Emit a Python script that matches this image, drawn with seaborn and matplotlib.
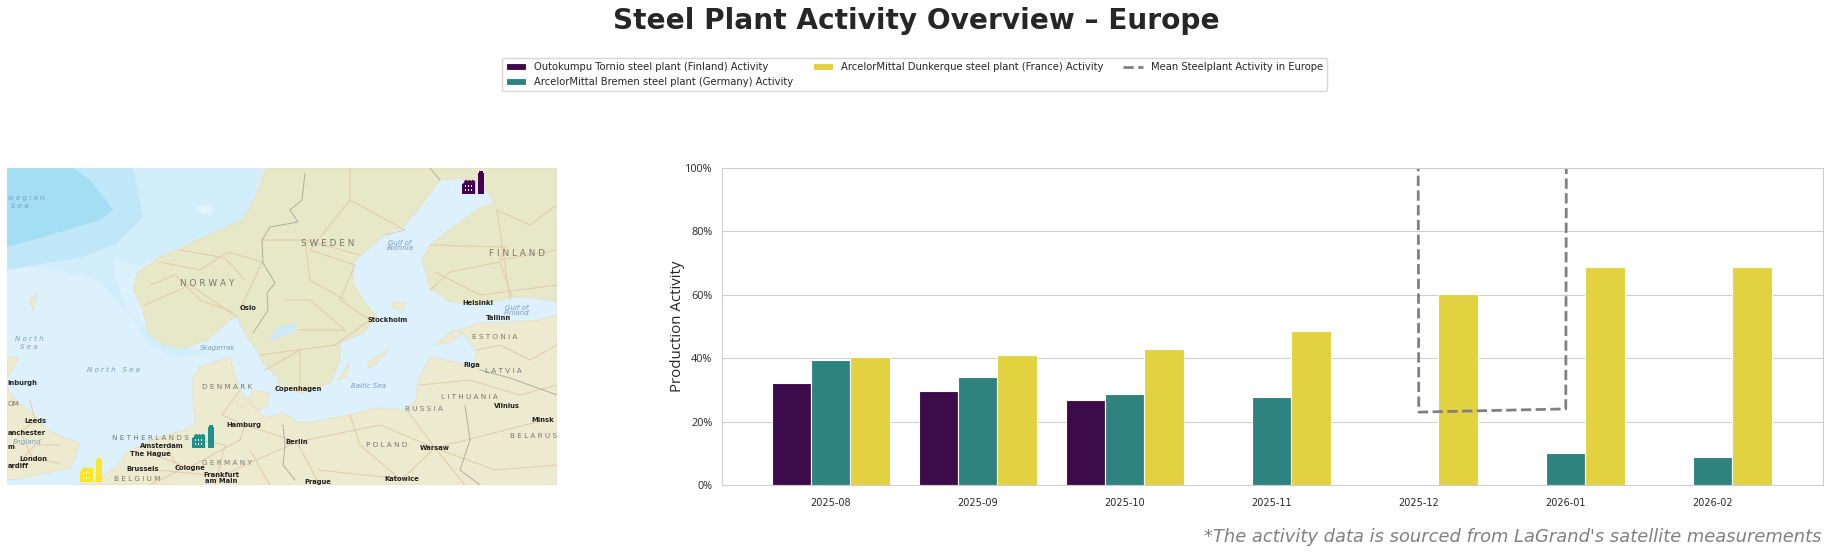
import matplotlib
matplotlib.use('Agg')
import matplotlib.pyplot as plt
from matplotlib.patches import Polygon, Rectangle
from matplotlib.ticker import FuncFormatter
import numpy as np
import pandas as pd
import seaborn as sns

# activity values, percent
months = ['2025-08', '2025-09', '2025-10', '2025-11', '2025-12', '2026-01', '2026-02']
plant_names = ['Outokumpu Tornio steel plant (Finland) Activity',
               'ArcelorMittal Bremen steel plant (Germany) Activity',
               'ArcelorMittal Dunkerque steel plant (France) Activity']
tornio = [32.2, 29.6, 26.8, np.nan, np.nan, np.nan, np.nan]
bremen = [39.4, 34.1, 28.8, 27.7, np.nan, 10.1, 8.8]
dunkerque = [40.4, 41.0, 43.0, 48.7, 60.1, 68.9, 68.9]
# the mean runs far off the top of the axis except for two months
mean_activity = [20000, 20000, 20000, 20000, 23.0, 24.0, 20000]
plant_colors = ['#440154', '#21918c', '#fde725']

# map outlines, in pixels of the map picture
land_main = [(267, 168), (263, 173), (257, 193), (243, 220), (213, 233), (187, 245), (160, 257), (137, 273),
             (133, 290), (143, 310), (148, 333), (163, 345), (183, 348), (207, 340), (230, 320), (237, 317),
             (247, 337), (257, 350), (263, 363), (277, 377), (280, 387), (303, 393), (330, 383), (340, 360),
             (340, 343), (363, 333), (377, 317), (363, 300), (353, 283), (353, 263), (363, 253), (387, 233),
             (403, 227), (420, 207), (430, 193), (440, 180), (460, 178), (480, 183), (495, 202), (480, 208),
             (452, 228), (430, 245), (422, 260), (430, 288), (450, 302), (480, 305), (513, 297), (535, 298),
             (557, 302), (557, 168)]
land_south = [(557, 315), (540, 320), (510, 322), (480, 323), (460, 330), (470, 342), (477, 353), (473, 368),
              (455, 362), (430, 357), (418, 380), (416, 400), (407, 410), (375, 408), (349, 415), (313, 422),
              (298, 423), (284, 413), (265, 418), (253, 407), (240, 390), (233, 370), (230, 357), (200, 367),
              (193, 377), (193, 403), (196, 423), (185, 430), (156, 438), (127, 452), (116, 467), (102, 477),
              (87, 483), (78, 485), (557, 485)]
land_britain = [(7, 387), (13, 397), (23, 407), (37, 417), (47, 430), (63, 437), (80, 443), (75, 458), (70, 468),
                (50, 472), (23, 478), (7, 480)]
land_scotland = [(7, 357), (18, 357), (13, 370), (7, 378)]
islands = [[(253, 390), (270, 393), (267, 407), (257, 410), (248, 400)],
           [(238, 397), (247, 400), (245, 408), (237, 406)],
           [(367, 363), (388, 350), (377, 363), (370, 368)],
           [(338, 380), (350, 362), (345, 378)],
           [(435, 345), (453, 330), (463, 333), (450, 342)],
           [(392, 303), (405, 303), (403, 310), (393, 308)],
           [(30, 300), (37, 294), (33, 310)]]
lake_vanern = [(268, 342), (277, 327), (297, 323), (293, 333), (277, 338)]
sea_deep = [(7, 168), (73, 168), (90, 180), (113, 210), (100, 220), (43, 237), (7, 247)]
sea_mid = [(7, 168), (133, 168), (143, 217), (117, 243), (83, 257), (7, 270)]
sea_pale = [(7, 168), (263, 168), (243, 227), (180, 247), (137, 267), (115, 258), (115, 277), (128, 310),
            (147, 343), (177, 358), (207, 353), (160, 340), (115, 300), (100, 280), (70, 273), (7, 263)]
sea_patch = [(195, 208), (210, 205), (213, 215), (203, 214)]
border_lines = [[(305, 173), (302, 200), (290, 210), (298, 222), (270, 227), (262, 240), (263, 263), (275, 283),
                 (267, 293), (268, 310), (257, 327), (253, 333)],
                [(440, 180), (430, 168)],
                [(283, 425), (285, 445), (283, 465), (295, 480)],
                [(465, 405), (470, 440), (460, 470), (480, 485)],
                [(480, 370), (510, 378), (557, 395)]]
road_lines = [[(350, 168), (350, 200), (310, 250), (355, 265), (340, 300), (370, 320)],
              [(350, 200), (405, 230), (385, 235)],
              [(262, 240), (305, 240), (360, 255)],
              [(305, 240), (310, 280), (345, 300)],
              [(160, 262), (200, 270), (228, 252), (262, 262), (240, 310)],
              [(145, 305), (190, 285), (237, 317)],
              [(150, 285), (175, 275), (200, 300), (232, 312)],
              [(180, 250), (225, 258), (245, 280)],
              [(260, 355), (335, 345), (370, 320)],
              [(265, 370), (300, 350), (300, 390)],
              [(285, 300), (310, 300), (345, 330), (300, 330)],
              [(430, 245), (505, 247), (500, 260), (557, 250)],
              [(430, 290), (450, 272), (500, 262), (512, 297)],
              [(435, 272), (480, 295), (557, 285)],
              [(497, 210), (505, 265), (510, 300)],
              [(497, 210), (530, 225), (557, 205)],
              [(477, 350), (500, 345), (530, 360), (557, 345)],
              [(420, 385), (470, 380), (520, 395), (557, 385)],
              [(245, 425), (297, 442), (380, 425), (435, 448), (545, 420)],
              [(150, 453), (188, 468), (240, 440), (245, 425)],
              [(145, 469), (221, 476), (297, 442), (318, 482)],
              [(435, 448), (402, 479), (318, 470)],
              [(435, 448), (465, 485)],
              [(350, 415), (360, 445), (400, 479)],
              [(407, 410), (435, 448), (495, 470), (557, 465)],
              [(200, 440), (225, 445), (215, 485)],
              [(165, 445), (180, 470), (150, 485)],
              [(250, 450), (270, 485)],
              [(20, 432), (35, 421), (30, 400)],
              [(20, 432), (33, 459), (60, 463)],
              [(12, 470), (35, 445), (60, 445)],
              [(240, 390), (222, 415), (245, 425)]]

# text on the map: label, x, y
country_labels = [('S W E D E N', 328, 243), ('N O R W A Y', 207, 283), ('F I N L A N D', 517, 253),
                  ('E S T O N I A', 495, 337), ('L A T V I A', 503, 371), ('L I T H U A N I A', 469, 397),
                  ('R U S S I A', 424, 409), ('D E N M A R K', 227, 387), ('B E L A R U S', 534, 436),
                  ('P O L A N D', 387, 445), ('G E R M A N Y', 227, 463), ('N E T H E R L A N D S', 150, 438),
                  ('B E L G I U M', 137, 479)]
big_countries = ['S W E D E N', 'N O R W A Y', 'F I N L A N D']
water_labels = [('Gulf of', 400, 243), ('Bothnia', 400, 248), ('Gulf of', 517, 308), ('Finland', 517, 313),
                ('Skagerrak', 218, 348), ('N o r t h', 29, 339), ('S e a', 29, 347),
                ('N o r t h   S e a', 113, 370), ('Baltic Sea', 368, 386), ('S e a', 20, 206),
                ('England', 27, 442)]
city_labels = [('Oslo', 248, 308), ('Stockholm', 388, 320), ('Helsinki', 478, 303), ('Tallinn', 498, 318),
               ('Riga', 472, 365), ('Vilnius', 507, 406), ('Minsk', 543, 420), ('Warsaw', 435, 448),
               ('Berlin', 297, 442), ('Hamburg', 244, 425), ('Copenhagen', 298, 389), ('Leeds', 35, 421),
               ('London', 33, 459), ('Amsterdam', 162, 446), ('The Hague', 150, 454), ('Brussels', 143, 469),
               ('Cologne', 190, 468), ('Frankfurt', 221, 475), ('am Main', 221, 481), ('Prague', 318, 482),
               ('Katowice', 402, 479)]
# what is left of the labels cut by the left edge of the map
edge_labels = [('w e g i a n', 198, 'water'), ('inburgh', 383, 'city'), ('OM', 404, 'country'),
               ('anchester', 433, 'city'), ('ardiff', 466, 'city'), ('m', 447, 'city')]
# factory icons: left, top, right, bottom
plant_sites = [(462, 171, 484, 194), (192, 425, 214, 448), (80, 458, 102, 482)]

W, H = 1828, 554
MAP_FONT = 'DejaVu Sans'


def draw_factory(ax, box, color):
    left, top, right, bottom = box
    w = right - left
    h = bottom - top
    def px(a, b):
        return (left + a * w, bottom - b * h)
    roof = [(0, 0), (0, .42), (.1, .5), (.1, .56), (.2, .62), (.27, .56), (.34, .62), (.41, .56), (.48, .62),
            (.6, .56), (.6, 0)]
    ax.add_patch(Polygon([px(a, b) for a, b in roof], color=color, lw=0, zorder=5))
    ax.add_patch(Rectangle(px(.72, 0), .28 * w, -.92 * h, color=color, lw=0, zorder=5))
    ax.add_patch(Rectangle(px(.76, .92), .2 * w, -.08 * h, color=color, lw=0, zorder=5))
    for a in (.12, .26, .4):
        for b in (.14, .32):
            ax.add_patch(Rectangle(px(a, b), .07 * w, -.08 * h, color='white', lw=0, zorder=6))


def draw_map(ax):
    ax.set_xlim(7, 557)
    ax.set_ylim(485, 168)
    ax.set_facecolor('#dcf1fb')
    ax.set_xticks([])
    ax.set_yticks([])
    ax.grid(False)
    for s in ax.spines.values():
        s.set_visible(False)
    ax.add_patch(Polygon(sea_pale, color='#d2eefa', lw=0, zorder=1))
    ax.add_patch(Polygon(sea_mid, color='#c0e7f8', lw=0, zorder=1))
    ax.add_patch(Polygon(sea_deep, color='#a3def5', lw=0, zorder=1))
    ax.add_patch(Polygon(sea_patch, color='#e4f4fb', lw=0, zorder=1))
    for shape in [land_south, land_britain, land_scotland] + islands:
        ax.add_patch(Polygon(shape, facecolor='#ecebd0', edgecolor='#ebdcbc', lw=.5, zorder=2))
    ax.add_patch(Polygon(land_main, facecolor='#e6e8c8', edgecolor='#ebdcbc', lw=.5, zorder=2))
    ax.add_patch(Polygon(lake_vanern, color='#cfe9f6', lw=0, zorder=3))
    for line in road_lines:
        xs, ys = zip(*line)
        ax.plot(xs, ys, color='#e5c8a8', lw=.7, zorder=3)
    for line in border_lines:
        xs, ys = zip(*line)
        ax.plot(xs, ys, color='#b0ae9c', lw=.7, zorder=3)
    styles = {'water': dict(style='italic', color='#7d9cb8', fontsize=5),
              'city': dict(fontweight='bold', color='#222222', fontsize=4.9),
              'country': dict(color='#77776f', fontsize=5.2)}
    for label, x, y in country_labels:
        st = dict(styles['country'])
        if label in big_countries:
            st['fontsize'] = 6.4
        ax.text(x, y, label, ha='center', va='center', family=MAP_FONT, zorder=4, **st)
    for label, x, y in water_labels:
        ax.text(x, y, label, ha='center', va='center', family=MAP_FONT, zorder=4, **styles['water'])
    for label, x, y in city_labels:
        ax.text(x, y, label, ha='center', va='center', family=MAP_FONT, zorder=4, **styles['city'])
    for label, y, kind in edge_labels:
        ax.text(7.5, y, label, ha='left', va='center', family=MAP_FONT, zorder=4, **styles[kind])
    for box, color in zip(plant_sites, plant_colors):
        draw_factory(ax, box, color)


sns.set_theme(style='whitegrid')
plt.rcParams['font.family'] = ['Open Sans', 'DejaVu Sans']

fig = plt.figure(figsize=(W / 100, H / 100), dpi=100)
ax_map = fig.add_axes([7 / W, (H - 485) / H, 550 / W, 317 / H])
ax = fig.add_axes([722 / W, (H - 485) / H, 1101 / W, 317 / H])

draw_map(ax_map)

df = pd.DataFrame({'month': months * 3,
                   'plant': np.repeat(plant_names, len(months)),
                   'activity': tornio + bremen + dunkerque})
sns.barplot(data=df, x='month', y='activity', hue='plant', palette=plant_colors, edgecolor='white',
            linewidth=.8, errorbar=None, ax=ax)
sns.lineplot(x=np.arange(len(months)), y=mean_activity, color='gray', lw=2, linestyle='--',
             label='Mean Steelplant Activity in Europe', errorbar=None, ax=ax)
ax.set_xlim(-0.74, 6.75)
ax.set_ylim(0, 100)
ax.yaxis.set_major_formatter(FuncFormatter(lambda v, p: '%d%%' % v))
ax.set_xlabel('')
ax.set_ylabel('Production Activity', fontsize=10.8)
ax.yaxis.set_label_coords(-0.034, 0.5)
ax.tick_params(axis='y', labelsize=7.8, pad=1)
ax.tick_params(axis='x', labelsize=7)
for t in ax.get_xticklabels():
    t.set_family('DejaVu Sans')
ax.grid(False, axis='x')
ax.grid(True, axis='y', lw=.75)
for s in ax.spines.values():
    s.set_linewidth(.75)

handles, labels = ax.get_legend_handles_labels()
ax.get_legend().remove()
fig.legend(handles, labels, ncol=3, loc='center', bbox_to_anchor=(914.5 / W, 1 - 74.5 / H),
           prop={'family': 'DejaVu Sans', 'size': 7.2})

fig.text(916 / W, 1 - 21 / H, 'Steel Plant Activity Overview – Europe', fontsize=20.2, fontweight='bold',
         family='DejaVu Sans', color='.15', ha='center', va='center')
fig.text(1821 / W, 1 - 537 / H, "*The activity data is sourced from LaGrand's satellite measurements",
         fontsize=12.9, style='italic', family='DejaVu Sans', color='gray', ha='right', va='center')

fig.savefig('out.png', dpi=100)
